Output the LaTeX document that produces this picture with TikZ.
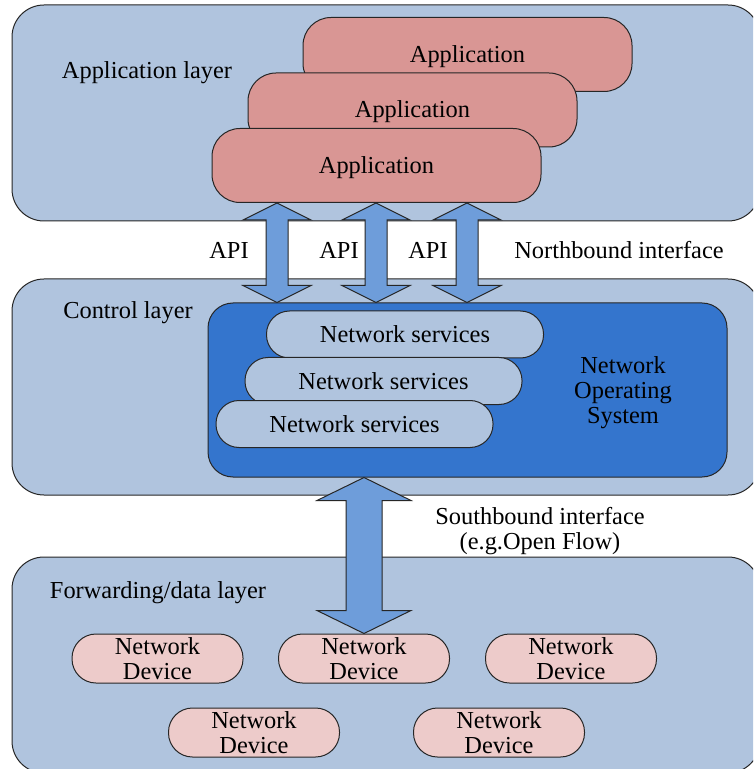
\documentclass[tikz,border=0pt]{standalone}
\usepackage{fontspec}
\setmainfont{Liberation Serif}
\usetikzlibrary{calc}

\definecolor{layerblue}{HTML}{B0C4DE}
\definecolor{apppink}{HTML}{D99694}
\definecolor{nosblue}{HTML}{3475CD}
\definecolor{arrowblue}{HTML}{6E9DDA}
\definecolor{devpink}{HTML}{EDCBCA}

% #1 top tip, #2 bottom tip, #3 half shaft, #4 half head, #5 head length
\newcommand{\blockarrow}[5]{%
    \draw[blockarrow] (#1) -- ($(#1)+(#4,#5)$) -- ($(#1)+(#3,#5)$) -- ($(#2)+(#3,-#5)$)
        -- ($(#2)+(#4,-#5)$) -- (#2) -- ($(#2)+(-#4,-#5)$) -- ($(#2)+(-#3,-#5)$)
        -- ($(#1)+(-#3,#5)$) -- ($(#1)+(-#4,#5)$) -- cycle;
}

\begin{document}
\begin{tikzpicture}[x=0.5pt,y=-0.5pt,
        font=\fontsize{12.2}{12.5}\selectfont,
        layer/.style={draw=black!85,fill=layerblue,line width=0.5pt,rounded corners=16pt,
            minimum width=374pt,minimum height=108pt},
        app/.style={draw=black!85,fill=apppink,line width=0.5pt,rounded corners=14pt,
            minimum width=164.5pt,minimum height=37pt,text height=10.3pt},
        nos/.style={draw=black!85,fill=nosblue,line width=0.5pt,rounded corners=12.5pt,
            minimum width=259.5pt,minimum height=87pt},
        service/.style={draw=black!85,fill=layerblue,line width=0.5pt,rounded corners=11.5pt,
            minimum width=138.5pt,minimum height=23.5pt},
        device/.style={draw=black!85,fill=devpink,line width=0.5pt,rounded corners=12pt,
            minimum width=85.5pt,minimum height=24.5pt,align=center,inner sep=0pt},
        blockarrow/.style={draw=black!85,fill=arrowblue,line width=0.5pt,line join=miter}]

    \useasboundingbox (0,0) rectangle (753,769);
    \clip (0,0) rectangle (753,769);

    % layers
    \node[layer] (applayer) at (386,113) {};
    \node[layer] (ctrllayer) at (386,387) {};
    \node[layer] (fwdlayer) at (386,665) {};
    \node (applbl) at (147,72.5) {Application layer};
    \node (ctrllbl) at (128,313) {Control layer};
    \node (fwdlbl) at (158,593) {Forwarding/data layer};

    % applications
    \node[app] (app1) at (467.5,54.5) {Application};
    \node[app] (app2) at (412.5,110) {Application};
    \node[app] (app3) at (376.5,165.5) {Application};

    % network operating system
    \node[nos] (nos) at (467.5,390) {};
    \node[service] (ns1) at (405,334.5) {Network services};
    \node[service] (ns2) at (383.5,381) {Network services};
    \node[service] (ns3) at (354.5,424) {Network services};
    \node[align=center] (noslbl) at (623,393) {Network\\Operating\\System};

    % devices
    \foreach \n/\x/\y in {1/157.5/658.5,2/364/658.5,3/571/658.5,4/254/732.5,5/499/732.5}{
        \node[device] (dev\n) at (\x,\y) {Network\\Device};
    }

    % northbound
    \foreach \n/\x in {1/277,2/376,3/467}{
        \coordinate (nbtop\n) at (\x,0 |- app3.south);
        \coordinate (nbbot\n) at (\x,0 |- nos.north);
        \blockarrow{nbtop\n}{nbbot\n}{11}{34}{17}
    }
    \foreach \n/\x in {1/229,2/339,3/428}{
        \node (api\n) at (\x,250) {API};
    }
    \node (nblbl) at (619,250) {Northbound interface};

    % southbound
    \coordinate (sbtop) at (dev2 |- nos.south);
    \coordinate (sbbot) at (dev2.north);
    \blockarrow{sbtop}{sbbot}{18}{47}{23}
    \node[align=center] (sblbl) at (540,531) {Southbound interface\\(e.g.Open Flow)};
\end{tikzpicture}
\end{document}
